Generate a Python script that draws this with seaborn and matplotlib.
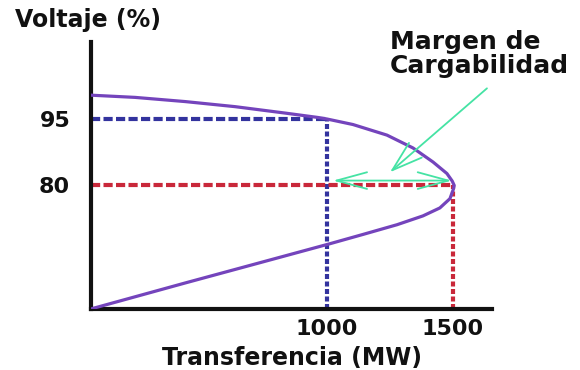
# Curva P-V (curva nariz) con margen de cargabilidad
import pandas as pd
import matplotlib
matplotlib.use("Agg")
import matplotlib.pyplot as plt
import seaborn as sns

# Puntos (rama superior y luego rama inferior)
pv_mw = [63, 238, 437, 635, 833, 964, 1000, 1103, 1238, 1341, 1421, 1476,
         1497, 1505, 1502, 1488, 1448, 1381, 1278, 1143, 1012, 702, 437, 62]
pv_volt = [100.45, 99.95, 99.0, 97.85, 96.4, 95.4, 95.05, 93.8, 91.4,
           88.5, 85.3, 82.7, 81.0, 80.0, 79.2, 77.0, 74.9, 73.1, 71.1,
           68.9, 66.8, 62.0, 57.9, 52.0]

# Niveles de voltaje y transferencias marcados
voltage_levels = [95, 80]
transfer_levels = [1000, 1500]
level_colors = ["#33339e", "#c9283a"]

# Flechas del margen
margin_from = (1024, 81.1)
margin_to = (1495, 81.1)
pointer_tail = (1635, 102.0)
pointer_head = (1250, 83.0)

x_min, x_max = 63, 1655
y_min, y_max = 52, 112.5

df = pd.DataFrame({"MW": pv_mw, "V": pv_volt})

sns.set_style("white")
plt.rcParams["font.family"] = ["DejaVu Sans"]
plt.rcParams["font.weight"] = "bold"

fig = plt.figure(figsize=(5.8, 3.7), dpi=100)
ax = fig.add_axes([91 / 580, 61 / 370, 401 / 580, 267 / 370])

# lineas de referencia
for v, t, c in zip(voltage_levels, transfer_levels, level_colors):
    ax.plot([x_min, t], [v, v], color=c, lw=3, ls=(0, (2.2, 0.8)), zorder=2)
    ax.plot([t, t], [y_min, v], color=c, lw=3, ls=(0, (1.2, 0.6)), zorder=2)

sns.lineplot(data=df, x="MW", y="V", sort=False, estimator=None,
             color="#7444bc", lw=2.3, ax=ax, zorder=3)

green = "#45e3a4"
ax.annotate("", xy=margin_to, xytext=margin_from,
            arrowprops=dict(arrowstyle="<->,head_length=1.1,head_width=0.3",
                            color=green, lw=1.3, mutation_scale=20,
                            shrinkA=0, shrinkB=0), zorder=4)
ax.annotate("", xy=pointer_head, xytext=pointer_tail,
            arrowprops=dict(arrowstyle="->,head_length=1.1,head_width=0.35",
                            color=green, lw=1.3, mutation_scale=20,
                            shrinkA=0, shrinkB=0), zorder=4)

ax.text(0.746, 1.045, "Margen de\nCargabilidad", transform=ax.transAxes,
        ha="left", va="top", fontsize=18, fontweight="bold",
        linespacing=1.0, color="#111111")

ax.set_xlim(x_min, x_max)
ax.set_ylim(y_min, y_max)
ax.set_xticks(transfer_levels)
ax.set_yticks(voltage_levels)
ax.set_xticklabels([str(t) for t in transfer_levels])
ax.set_yticklabels([str(v) for v in voltage_levels])
ax.tick_params(axis="both", length=0, labelsize=16, colors="#111111")
ax.tick_params(axis="x", pad=7)
ax.tick_params(axis="y", pad=15)
for lab in ax.get_xticklabels() + ax.get_yticklabels():
    lab.set_fontweight("bold")

ax.set_xlabel("Transferencia (MW)", fontsize=17, fontweight="bold",
              va="center", color="#111111")
ax.xaxis.set_label_coords(0.5, -0.183)
ax.set_ylabel("Voltaje (%)", fontsize=17, fontweight="bold", rotation=0,
              ha="left", va="center", color="#111111")
ax.yaxis.set_label_coords(-0.19, 1.082)

sns.despine(ax=ax)
for side in ["left", "bottom"]:
    ax.spines[side].set_linewidth(3)
    ax.spines[side].set_color("#111111")

fig.savefig("out.png", dpi=100)
